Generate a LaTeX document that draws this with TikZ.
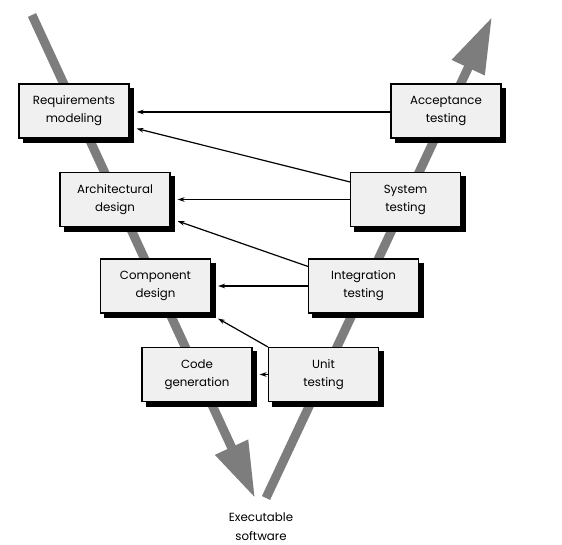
\documentclass[tikz,border=0pt]{standalone}
\usepackage{fontspec}
\setmainfont{Poppins}
\usetikzlibrary{arrows.meta}
\definecolor{bargray}{HTML}{7D7D7D}
\definecolor{boxfill}{HTML}{F0F0F0}
\tikzset{
  phase/.style={draw=black, fill=boxfill, line width=1.1pt, minimum width=110pt, minimum height=54pt,
    inner sep=0pt, align=center, font=\fontsize{11.8}{18}\selectfont},
  shadowbox/.style={draw=black, fill=black, line width=1.1pt, minimum width=110pt, minimum height=54pt,
    inner sep=0pt},
  vbar/.style={draw=bargray, line width=9pt, -{Triangle[length=56pt,width=34pt]}},
  link/.style={draw=black, line width=1.2pt, -{Stealth[length=7pt,width=4.5pt]}},
  label/.style={align=center, font=\fontsize{11.8}{19}\selectfont}
}
\newcommand{\phasebox}[3]{%
  \node[shadowbox] (#1s) at ([shift={(4.5pt,-4.5pt)}]#2) {};
  \node[phase] (#1) at (#2) {#3};
}
\begin{document}
\begin{tikzpicture}[x=1pt,y=-1pt]
\useasboundingbox (0,0) rectangle (562,544);
\coordinate (Ltop) at (32,15);
\coordinate (Ltip) at (255,498);
\coordinate (Rbot) at (266,498);
\coordinate (Rtip) at (492,17);
\draw[vbar] (Ltop) -- (Ltip);
\draw[vbar] (Rbot) -- (Rtip);

\phasebox{req}{74,111}{Requirements\\modeling}
\phasebox{arch}{115,199.5}{Architectural\\design}
\phasebox{comp}{155.5,286}{Component\\design}
\phasebox{code}{197,374.5}{Code\\generation}
\phasebox{unit}{323.5,374.5}{Unit\\testing}
\phasebox{integ}{363.5,286}{Integration\\testing}
\phasebox{sys}{405.5,199.5}{System\\testing}
\phasebox{acc}{446,111}{Acceptance\\testing}

\node[label] (exe) at (261,527) {Executable\\software};

\draw[link] ([yshift=-1pt]acc.west) -- ([xshift=7pt,yshift=-1pt]req.east);
\draw[link] ([yshift=-10pt]sys.north west) -- ([xshift=7pt,yshift=10pt]req.south east);
\draw[link] (sys.west) -- ([xshift=7pt]arch.east);
\draw[link] ([yshift=-8pt]integ.north west) -- ([xshift=7pt,yshift=6pt]arch.south east);
\draw[link] (integ.west) -- ([xshift=7pt]comp.east);
\draw[link] (unit.north west) -- ([xshift=7pt,yshift=-5pt]comp.south east);
\draw[link] (unit.west) -- ([xshift=7pt]code.east);
\end{tikzpicture}
\end{document}
